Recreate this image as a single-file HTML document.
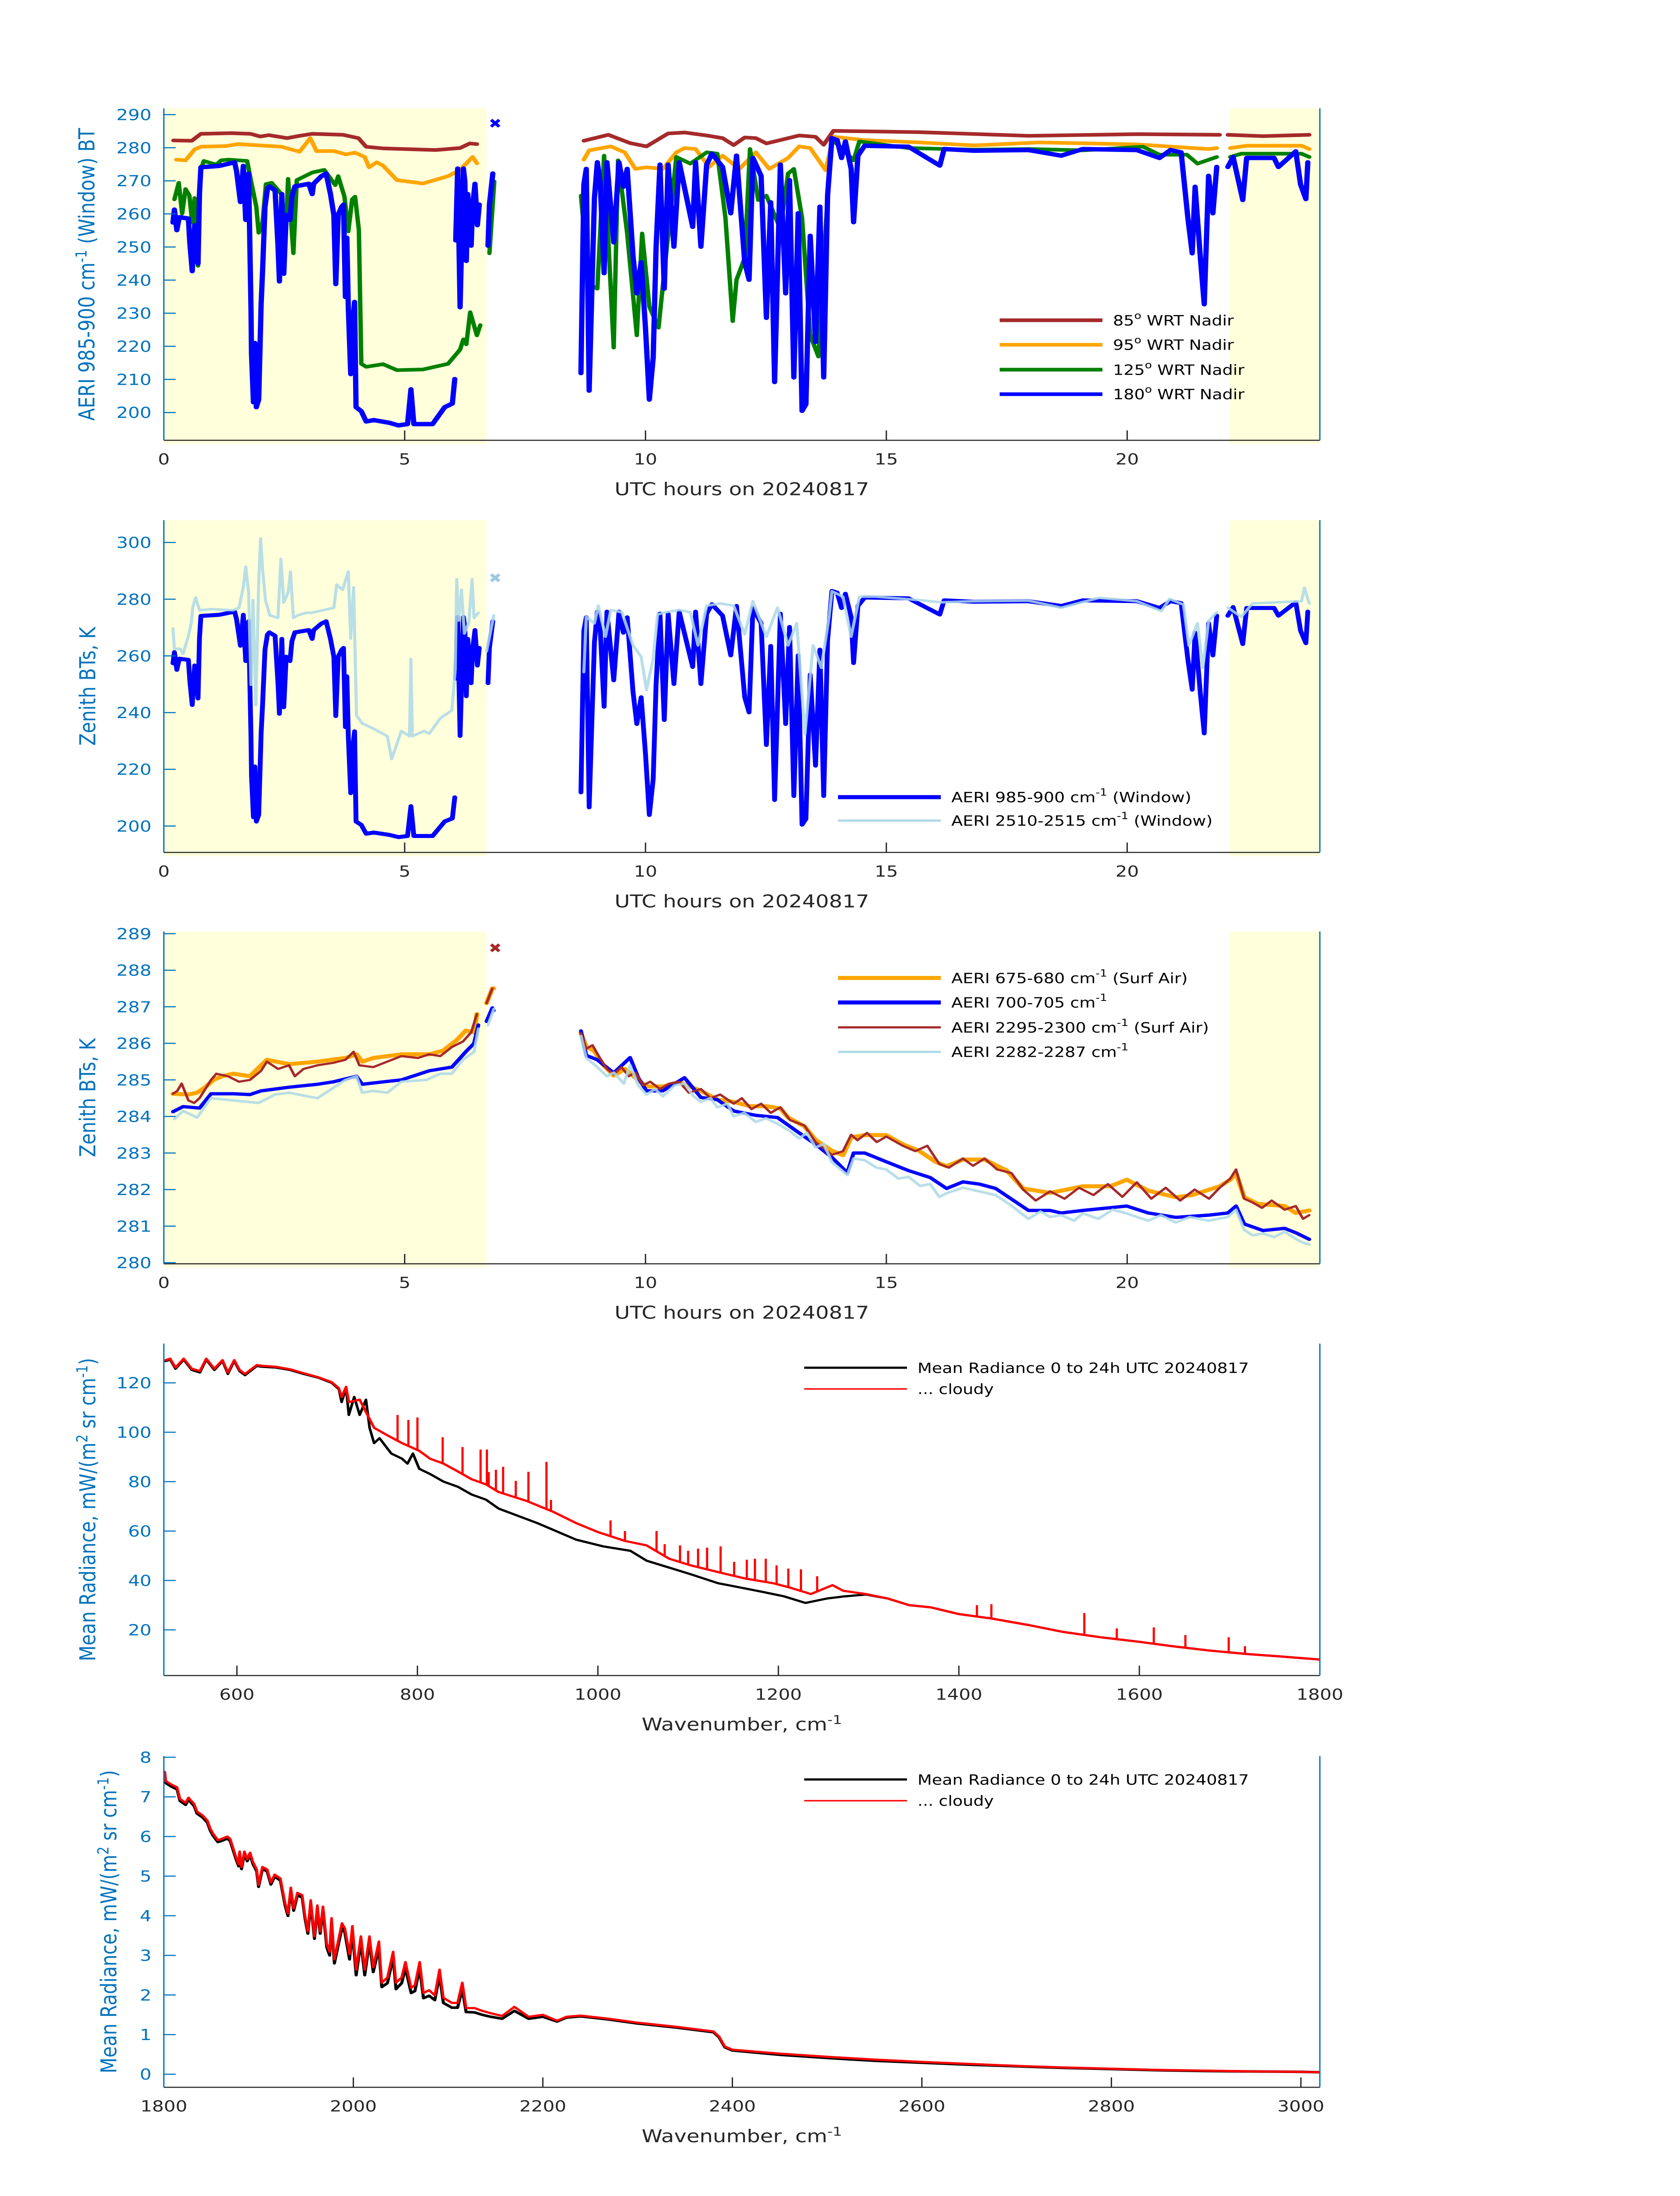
<!DOCTYPE html>
<html><head><meta charset="utf-8"><style>
html,body{margin:0;padding:0;background:#fff;width:100%;height:100%;overflow:hidden}
svg{display:block;width:100vw;height:100vh}
text{font-family:"DejaVu Sans","Liberation Sans",sans-serif}
</style></head><body>
<svg id="fig" xmlns="http://www.w3.org/2000/svg" viewBox="0 0 3825 6000" preserveAspectRatio="none">
<rect width="3825" height="6000" fill="#fff"/>
</svg>
<script>
// ---------- Panel 1 data (hours, BT K) ----------
const p1H85=[0.2,0.58,0.77,1.41,1.8,2.0,2.18,2.56,2.82,3.08,3.72,4.04,4.2,4.55,5.64,6.15,6.35,6.5,null,8.72,9.0,9.23,9.68,10.02,10.47,10.81,11.27,11.6,11.83,12.06,12.29,12.51,12.74,13.19,13.53,13.7,13.9,15.68,17.95,20.2,21.92,null,22.09,22.82,23.78];
const p1V85=[282.2,282.1,284.2,284.4,284.2,283.4,283.8,282.9,283.6,284.2,283.9,282.9,280.3,279.8,279.3,279.9,281.3,281.1,null,282.1,283.1,283.9,281.4,280.4,284.3,284.6,283.7,282.9,280.8,283.1,282.9,281.3,282.1,283.7,283.3,280.9,285.1,284.7,283.6,284.1,283.9,null,283.9,283.5,283.9];
const p1H95=[0.26,0.45,0.64,0.77,1.28,1.54,2.44,2.82,3.04,3.17,3.53,3.78,3.97,4.17,4.26,4.42,4.55,4.84,5.38,5.9,6.15,6.41,6.5,null,8.72,8.83,9.28,9.57,9.79,10.02,10.36,10.64,10.81,11.04,11.32,11.6,11.95,12.29,12.57,12.96,13.19,13.42,13.74,13.9,14.55,15.68,16.82,18.18,20.2,21.69,21.86,null,22.14,22.48,23.62,23.78];
const p1V95=[276.4,276.2,279.5,280.3,280.5,281.1,280.3,278.8,282.9,279,279,278,278.5,277.2,274.1,275.6,274.6,270.2,269.2,271.4,273.3,277.2,275.3,null,276.4,279.2,280.4,278.6,273.6,274.1,273.6,278.6,279.9,279.6,274.2,277.6,273.6,278.6,273.6,276.9,280.4,279.9,273.2,283.3,282.3,281.6,280.7,281.6,281,279.6,279.9,null,279.9,280.6,280.6,279.6];
const p1H125=[0.22,0.31,0.38,0.45,0.53,0.59,0.64,0.71,0.76,0.83,1.09,1.19,1.35,1.73,1.79,1.92,1.97,2.05,2.12,2.24,2.44,2.53,2.58,2.69,2.76,3.08,3.33,3.56,3.62,3.75,3.83,3.91,3.97,4.05,4.1,4.2,4.55,4.84,5.38,5.9,6.15,6.22,6.28,6.36,6.5,6.57,null,6.76,6.86,null,8.66,8.83,9.0,9.14,9.34,9.43,9.62,9.82,9.93,10.08,10.27,10.42,10.64,10.93,11.27,11.49,11.66,11.81,11.89,12.06,12.17,12.34,12.51,12.8,12.96,13.08,13.25,13.42,13.59,13.76,13.87,14.32,14.44,15.46,16.82,17.95,19.08,20.33,20.67,21.24,21.46,21.86,null,22.14,22.37,23.62,23.78];
const p1V125=[264.4,269.4,260.1,267.5,265.6,257.4,264.8,244.3,272.9,276,274.9,276.2,276.4,276,271.4,262.1,254.3,257.4,269,269.4,266,253.5,270.6,248.1,270.2,272.5,273.3,268.7,271.4,265.2,254.7,264.4,265.2,255.1,214.7,213.8,214.6,212.8,213,214.7,219,222.1,220.6,230.3,223.3,226.4,null,248.1,269.8,null,265.5,238.7,237.4,277.6,219.6,276.2,254.1,223.3,254.1,232,225.6,246.7,277.2,275.2,278.6,278.2,258.8,227.6,240.1,246.7,279.6,264.2,265.5,255.5,272.2,273.6,258.8,223.3,216.9,260.2,282.6,276.2,281.9,279.9,279.4,279.6,279.2,280.3,277.9,277.9,275.2,277.2,null,277.2,278.2,278.2,277.2];
const p1H180=[0.19,0.22,0.27,0.32,0.51,0.54,0.59,0.64,0.71,0.74,0.77,1.15,1.47,1.51,1.59,1.65,1.7,1.76,1.81,1.82,1.86,1.89,1.92,1.97,2.02,2.05,2.1,2.15,2.19,2.31,2.37,2.4,2.45,2.49,2.54,2.62,2.66,2.72,3.01,3.08,3.11,3.27,3.37,3.46,3.53,3.57,3.62,3.69,3.73,3.77,3.8,3.83,3.88,3.92,3.96,3.99,4.1,4.2,4.36,4.68,4.87,5.06,5.13,5.19,5.58,5.83,5.99,6.04,null,6.06,6.1,6.15,6.22,6.25,6.28,6.31,6.38,6.41,6.46,6.51,6.55,null,6.73,6.76,6.83,null,8.66,8.72,8.77,8.83,8.89,8.94,9.0,9.06,9.14,9.2,9.34,9.45,9.54,9.62,9.74,9.82,9.91,10.0,10.08,10.16,10.22,10.3,10.39,10.47,10.59,10.7,10.98,11.04,11.15,11.27,11.38,11.6,11.77,11.89,12.06,12.15,12.23,12.4,12.51,12.6,12.68,12.8,12.91,12.99,13.08,13.17,13.25,13.33,13.42,13.53,13.62,13.7,13.78,13.87,13.98,14.07,14.15,14.27,14.32,14.41,14.55,15.46,16.11,16.2,16.82,17.95,18.63,19.08,20.2,20.67,20.9,21.12,21.26,21.35,21.41,21.52,21.6,21.69,21.78,21.86,null,22.09,22.2,22.4,22.48,23.05,23.14,23.5,23.6,23.71,23.75];
const p1V180=[257.4,261.3,255.1,259,258.6,251.2,242.7,256.6,245,266.3,274.1,274.5,275.6,272.9,263.6,274.5,258.2,272.2,231,217.8,203.1,221,201.6,203.9,232.6,242.7,262.1,267.5,268.3,267.1,250.4,239.6,266,241.9,259.7,258.2,265.2,268.3,269.1,266,269.1,271.4,272.2,266,259.7,238.8,259.7,262.1,262.8,234.9,252.8,231.8,211.6,227.2,233.4,201.6,200.4,197.3,197.7,196.9,196.1,196.5,207,196.5,196.5,201.6,202.7,210.1,null,252,273.7,231.8,273.7,269.8,245.8,266,250.4,262.1,269.1,256.6,262.8,null,250.4,262.8,272.2,null,211.9,268.9,273.6,206.6,238.7,264.8,275.6,269.5,242.1,275.6,251.4,275.6,268.2,273.6,247.4,236,245.4,225.3,203.9,216.6,250.1,274.9,237.4,274.9,250.1,275.6,256.1,275.6,250.1,274.9,278.2,274.2,260.2,277.6,245.4,240.1,276.9,271.5,228.6,263.5,209.2,274.9,236,270.2,210.6,260.2,200.5,202.5,253.4,221.3,262.2,210.6,265.5,282.9,282.3,276.9,281.9,273.6,257.5,277.6,280.6,280.3,274.6,279.6,279.1,279.3,277.6,279.6,279.3,276.9,279.3,278.6,258.8,248.1,268.2,246.7,232.7,271.5,260.2,274.2,null,274.2,277.2,264.2,276.9,276.9,274.2,278.9,268.9,264.5,275.6];
// ---------- Panel 2 data (light window channel) ----------
const p2HLight=[0.19,0.22,0.34,0.4,0.51,0.57,0.6,0.66,0.74,0.98,1.44,1.56,1.65,1.7,1.76,1.81,1.85,1.91,1.97,2.01,2.05,2.11,2.2,2.37,2.43,2.49,2.58,2.63,2.69,2.78,2.95,3.07,3.53,3.59,3.71,3.83,3.88,3.94,4.0,4.12,4.35,4.64,4.73,4.93,5.1,5.13,5.16,5.4,5.51,5.74,5.98,6.05,6.08,6.12,6.18,6.24,6.33,6.4,6.44,6.53,null,6.7,6.85,null,8.72,8.77,8.94,9.02,9.17,9.28,9.51,9.74,9.91,10.02,10.16,10.25,10.42,10.7,10.93,11.09,11.27,11.55,11.83,12.06,12.23,12.51,12.74,12.96,13.14,13.31,13.48,13.65,13.81,13.87,14.1,14.27,14.44,14.78,15.68,16.14,16.82,17.95,18.63,19.42,20.2,20.71,20.88,21.17,21.28,21.46,21.57,21.69,21.86,null,22.09,22.37,22.6,23.62,23.68,23.78];
const p2VLight=[269.7,262.5,262.5,260.7,267,271.6,277,280.6,276.1,276.5,276.1,277,284.2,291.5,282.4,249.8,279.7,242.6,286,301.4,290.6,279.7,274.3,273.4,294.2,278.8,282.4,289.7,273.4,274.3,275.2,275.2,277,285.1,283.3,289.7,266.1,284.2,239,236.2,234.4,231.7,223.6,233.5,231.7,258.9,231.7,233.5,232.6,238,240.8,255.3,287,272.5,283.3,267.9,271.6,287,273.4,275.2,null,261.6,274.3,null,254.3,273.8,271.5,277.7,266.8,276.2,275.4,263.7,259.7,248,259,274.6,275.4,276.2,275.4,263.7,277.7,278.5,277.7,267.6,279.3,266.8,277,263.7,271.5,232.4,263.7,255.8,273.8,282.8,280.9,266.8,280.9,280.9,279.7,278.9,279.3,279.5,277,280.5,279.3,275.8,280.1,278.1,263.7,271.5,255.8,272.3,275.4,null,277,273.8,278.5,279.3,284,278.5];
// ---------- Panel 3 data (hours, K) ----------
const p3H675=[0.19,0.51,0.69,0.86,1.03,1.21,1.44,1.79,2.02,2.14,2.6,3.19,3.77,4.0,4.12,4.35,4.93,5.51,5.8,6.09,6.27,6.44,6.5,null,6.7,6.82,6.85,null,8.66,8.77,8.94,9.11,9.34,9.57,9.79,10.02,10.36,10.7,11.15,11.49,11.83,12.17,12.51,12.8,12.96,13.3,13.53,13.87,14.1,14.27,14.55,15.0,15.34,15.68,16.02,16.25,16.59,17.04,17.5,17.84,18.4,18.63,19.08,19.65,19.99,20.44,21.01,21.35,21.92,22.14,22.26,22.43,22.71,23.27,23.5,23.78];
const p3V675=[284.62,284.6,284.65,284.8,285.0,285.1,285.17,285.1,285.4,285.55,285.43,285.5,285.6,285.7,285.5,285.6,285.7,285.7,285.8,286.1,286.35,286.3,286.8,null,287.1,287.5,287.5,null,286.28,285.91,285.79,285.43,285.12,285.3,285.06,284.82,284.82,284.94,284.7,284.46,284.4,284.28,284.28,284.22,283.97,283.73,283.36,283.06,282.94,283.43,283.49,283.49,283.24,283.06,282.76,282.64,282.82,282.82,282.52,282.03,281.91,281.97,282.09,282.09,282.27,281.97,281.79,281.85,282.09,282.27,282.45,281.79,281.61,281.55,281.36,281.43];
const p3H2295=[0.19,0.28,0.37,0.51,0.63,0.74,0.98,1.09,1.33,1.56,1.79,2.02,2.14,2.37,2.6,2.72,2.9,3.19,3.53,3.77,3.94,4.06,4.35,4.64,4.93,5.28,5.51,5.74,5.98,6.21,6.38,6.5,null,6.7,6.82,null,8.66,8.77,8.9,9.05,9.2,9.34,9.5,9.65,9.79,9.95,10.1,10.3,10.5,10.7,10.9,11.15,11.35,11.55,11.83,12.0,12.2,12.4,12.6,12.8,13.0,13.3,13.53,13.87,14.1,14.27,14.4,14.6,14.8,15.0,15.34,15.6,15.85,16.1,16.3,16.59,16.8,17.04,17.3,17.6,17.84,18.1,18.4,18.7,19.0,19.3,19.6,19.9,20.2,20.5,20.8,21.1,21.4,21.7,21.92,22.14,22.26,22.43,22.6,22.8,23.0,23.27,23.5,23.65,23.78];
const p3V2295=[284.62,284.7,284.9,284.44,284.37,284.5,285.0,285.17,285.1,284.95,285.0,285.25,285.5,285.3,285.4,285.1,285.3,285.4,285.47,285.55,285.77,285.4,285.35,285.5,285.65,285.6,285.7,285.65,285.9,286.05,286.3,286.8,null,287.1,287.5,null,286.28,285.85,285.95,285.6,285.3,285.15,285.35,285.1,285.2,284.85,284.95,284.75,284.9,284.95,284.65,284.75,284.5,284.6,284.35,284.5,284.2,284.35,284.1,284.25,283.9,283.75,283.3,282.95,283.05,283.5,283.35,283.55,283.3,283.45,283.2,283.05,283.2,282.7,282.6,282.85,282.65,282.85,282.55,282.45,282.0,281.7,281.95,281.75,282.05,281.85,282.15,281.8,282.2,281.75,282.05,281.7,282.0,281.75,282.05,282.3,282.55,281.75,281.65,281.5,281.7,281.45,281.55,281.2,281.3];
const p3H700=[0.19,0.4,0.74,0.98,1.44,1.79,2.02,2.6,3.19,3.53,4.0,4.12,4.58,4.93,5.51,5.98,6.27,6.44,6.53,null,6.7,6.82,6.85,null,8.66,8.77,9.0,9.34,9.68,9.85,10.02,10.36,10.81,11.15,11.49,11.83,12.29,12.74,13.19,13.53,13.87,14.19,14.32,14.55,15.0,15.46,15.91,16.25,16.59,16.93,17.27,17.61,17.95,18.4,18.63,19.08,19.99,20.44,21.01,21.69,22.09,22.26,22.43,22.82,23.27,23.5,23.78];
const p3V700=[284.13,284.27,284.23,284.62,284.62,284.6,284.7,284.8,284.88,284.95,285.1,284.88,284.95,285.0,285.25,285.35,285.77,286.0,286.5,null,286.6,286.97,286.9,null,286.34,285.67,285.55,285.19,285.61,285.06,284.7,284.7,285.06,284.52,284.46,284.15,284.03,283.97,283.55,283.24,282.88,282.46,283.0,283.0,282.76,282.52,282.33,282.03,282.21,282.15,282.03,281.73,281.43,281.43,281.36,281.43,281.55,281.36,281.24,281.3,281.36,281.55,281.06,280.88,280.94,280.82,280.64];
const p3H2282=[0.22,0.4,0.69,0.98,1.44,1.97,2.31,2.6,3.19,3.77,4.0,4.12,4.35,4.64,4.93,5.45,5.74,5.98,6.21,6.44,6.53,null,6.73,6.85,null,8.66,8.77,9.0,9.2,9.34,9.55,9.68,9.85,10.02,10.2,10.36,10.6,10.81,11.0,11.15,11.35,11.49,11.7,11.83,12.05,12.29,12.5,12.74,13.0,13.19,13.35,13.53,13.7,13.87,14.19,14.32,14.55,14.8,15.0,15.25,15.46,15.7,15.91,16.1,16.25,16.59,16.93,17.27,17.61,17.8,17.95,18.2,18.4,18.63,18.9,19.08,19.4,19.7,19.99,20.2,20.44,20.7,21.01,21.3,21.69,22.09,22.26,22.43,22.6,22.82,23.05,23.27,23.5,23.65,23.78];
const p3V2282=[283.93,284.15,283.97,284.5,284.44,284.37,284.6,284.65,284.5,285.0,285.1,284.65,284.7,284.65,284.95,285.0,285.17,285.17,285.55,285.77,286.4,null,286.5,286.94,null,286.2,285.6,285.35,285.1,285.2,284.9,285.4,284.85,284.6,284.75,284.55,284.85,284.9,284.55,284.4,284.5,284.25,284.35,284.0,284.1,283.85,283.95,283.8,283.6,283.4,283.55,283.15,283.25,282.75,282.4,282.85,282.8,282.6,282.55,282.3,282.35,282.1,282.15,281.8,281.9,282.05,281.95,281.85,281.55,281.35,281.2,281.4,281.25,281.3,281.15,281.35,281.2,281.45,281.35,281.25,281.15,281.3,281.1,281.25,281.15,281.25,281.45,280.9,280.75,280.8,280.7,280.85,280.65,280.55,280.5];
// ---------- Panel 4 data (wavenumber, radiance) ----------
const p4WnAll=[521,526,532,541,550,559,566,575,584,590,597,603,609,622,628,643,659,674,690,705,713,716,721,724,730,736,743,747,752,758,771,783,789,795,802,814,829,845,860,876,890,933,976,1006,1036,1054,1079,1103,1133,1157,1182,1206,1230,1254,1272,1297,1321,1345,1369,1400,1436,1478,1515,1557,1599,1636,1678,1720,1757,1799];
const p4RadAll=[128.8,129.4,125.7,129.4,125.2,124.2,129.4,125.2,128.8,123.6,128.8,124.7,123.1,126.8,126.5,126.2,125.2,123.6,122.1,120,117.4,112.2,117.9,107,114.3,107,113.2,101.8,95.6,97.6,91.4,89.3,87.3,91.4,85.2,83.1,80,77.9,74.8,72.7,69.1,63.2,56.5,53.8,52,48,45.2,42.5,38.9,37.2,35.4,33.6,30.9,32.7,33.5,34.3,32.7,30,29.1,26.4,24.6,21.9,19.2,17,15.2,13.4,11.6,10.2,9.2,8.0];
const p4WnCloudy=[521,526,532,541,550,559,566,575,584,590,597,603,609,622,628,643,659,674,690,705,713,716,721,724,736,752,767,783,802,814,829,845,860,876,890,921,951,976,1000,1030,1054,1079,1103,1133,1163,1194,1212,1236,1260,1272,1297,1321,1345,1369,1400,1436,1478,1515,1557,1599,1636,1678,1720,1757,1799];
const p4RadCloudy=[129.2,129.8,126.2,129.8,125.7,124.8,129.8,125.7,129.2,124.2,129.2,125.2,123.6,127.2,126.9,126.5,125.5,123.9,122.3,120.3,117.8,114.3,118.4,112.2,113.2,101.8,98.7,95.6,92.5,89.3,87.3,84.1,81,78.9,75.8,72.2,67.7,63.2,59.6,56,54.2,48.8,46.1,43.4,40.8,38.9,37.2,34.5,38.1,35.8,34.5,32.7,30,29.1,26.4,24.6,21.9,19.2,17,15.2,13.4,11.6,10.2,9.2,8.0];
const p4SpikeWn=[778,790,800,828,850,870,877,895,923,943,879,887,909,948,1014,1030,1065,1074,1091,1100,1111,1121,1136,1151,1165,1174,1186,1198,1211,1225,1243,1420,1436,1539,1575,1616,1651,1699,1717];
const p4SpikeTop=[107,105,106,98,94,93,93,86,84,88,83.9,84.8,80.3,72.6,64.3,60,60,54.7,54.2,52,52.9,53.3,53.8,47.5,48.4,48.8,48.8,46.1,44.8,44.5,41.7,30,30.4,26.8,20.6,21,17.9,17,13.4];
// ---------- Panel 5 data ----------
const p5Wn=[1801,1802,1808,1814,1817,1823,1826,1832,1835,1841,1846,1849,1852,1857,1861,1867,1870,1876,1879,1880,1882,1885,1888,1891,1894,1898,1900,1904,1909,1913,1917,1923,1928,1931,1934,1937,1941,1946,1949,1952,1955,1959,1962,1965,1968,1972,1975,1977,1980,1988,1991,1996,1999,2003,2008,2012,2017,2021,2027,2030,2036,2042,2045,2051,2055,2061,2065,2070,2074,2080,2086,2091,2095,2104,2110,2115,2119,2128,2136,2145,2157,2170,2185,2200,2215,2225,2240,2270,2300,2340,2380,2386,2392,2400,2450,2500,2550,2600,2650,2700,2750,2800,2850,2900,2950,3000,3020];
const p5Cloudy=[7.63,7.4,7.31,7.24,6.95,6.85,6.98,6.82,6.63,6.53,6.4,6.2,6.07,5.91,5.94,6.0,5.94,5.49,5.3,5.62,5.23,5.62,5.43,5.59,5.36,5.17,4.78,5.23,5.17,4.84,5.04,4.94,4.32,4.06,4.71,4.19,4.58,4.52,4.0,3.61,4.39,3.48,4.26,3.61,4.23,3.29,3.09,3.94,2.9,3.81,3.68,3.03,3.74,2.64,3.48,2.64,3.48,2.7,3.35,2.31,2.44,3.09,2.31,2.44,2.83,2.18,2.25,2.83,2.05,2.12,1.99,2.64,1.93,1.8,1.8,2.31,1.67,1.67,1.6,1.54,1.47,1.7,1.45,1.5,1.35,1.45,1.48,1.4,1.3,1.2,1.08,0.95,0.7,0.62,0.52,0.44,0.37,0.31,0.26,0.21,0.17,0.14,0.11,0.09,0.07,0.06,0.05];
const p5All=[7.6,7.35,7.26,7.19,6.9,6.8,6.93,6.77,6.58,6.48,6.35,6.15,6.02,5.86,5.89,5.95,5.89,5.44,5.25,5.57,5.18,5.57,5.38,5.54,5.31,5.12,4.73,5.18,5.12,4.79,4.99,4.89,4.26,4.0,4.65,4.13,4.52,4.46,3.94,3.55,4.33,3.42,4.2,3.55,4.17,3.2,3.0,3.85,2.8,3.7,3.58,2.9,3.62,2.5,3.35,2.5,3.35,2.58,3.2,2.2,2.3,2.95,2.15,2.3,2.68,2.05,2.1,2.68,1.92,1.98,1.87,2.5,1.8,1.68,1.68,2.15,1.57,1.56,1.5,1.45,1.4,1.6,1.4,1.45,1.33,1.43,1.46,1.38,1.28,1.18,1.06,0.93,0.68,0.6,0.49,0.41,0.34,0.29,0.24,0.2,0.16,0.13,0.1,0.08,0.07,0.06,0.05];

// ---------- layout ----------
const NS='http://www.w3.org/2000/svg';
const svg=document.getElementById('fig');
const L=373,R=3005;
const panels=[
 {top:296,bot:1203,x0:0,x1:24,y0:191.6,y1:291.9},
 {top:1421,bot:2329,x0:0,x1:24,y0:190.7,y1:307.9},
 {top:2545,bot:3453,x0:0,x1:24,y0:279.97,y1:289.06},
 {top:3671,bot:4578,x0:519,x1:1800,y0:1.5,y1:135.9},
 {top:4798,bot:5703,x0:1800,x1:3020,y0:-0.33,y1:8.03}
];
function sx(p,v){return L+(v-p.x0)/(p.x1-p.x0)*(R-L);}
function sy(p,v){return p.bot-(v-p.y0)/(p.y1-p.y0)*(p.bot-p.top);}
function el(tag,attrs,parent){const e=document.createElementNS(NS,tag);for(const k in attrs)e.setAttribute(k,attrs[k]);(parent||svg).appendChild(e);return e;}
function series(p,xs,ys,color,w,name,op){
  let d='',pen=false;
  for(let i=0;i<xs.length;i++){
    if(xs[i]===null||ys[i]===null){pen=false;continue;}
    d+=(pen?'L':'M')+sx(p,xs[i]).toFixed(1)+' '+sy(p,ys[i]).toFixed(1);pen=true;
  }
  const e=el('path',{d:d,fill:'none',stroke:color,'stroke-width':w,'stroke-linejoin':'round','stroke-linecap':'round','clip-path':'url(#clip'+panels.indexOf(p)+')'});
  if(op)e.setAttribute('stroke-opacity',op);
  
  
  return e;
}
const defs=el('defs',{});
panels.forEach((p,i)=>{const c=el('clipPath',{id:'clip'+i},defs);el('rect',{x:L,y:p.top-20,width:R-L,height:p.bot-p.top+20},c);});

const xTicks=[[0,5,10,15,20],[0,5,10,15,20],[0,5,10,15,20],[600,800,1000,1200,1400,1600,1800],[1800,2000,2200,2400,2600,2800,3000]];
const yTicks=[[200,210,220,230,240,250,260,270,280,290],[200,220,240,260,280,300],[280,281,282,283,284,285,286,287,288,289],[20,40,60,80,100,120],[0,1,2,3,4,5,6,7,8]];
const BLUEAX='#0072bd';

function axes(i,xlabel){
  const p=panels[i];
  const g=el('g',{});
  
  
  const xa=el('line',{x1:L,y1:p.bot,x2:R,y2:p.bot,stroke:'#262626','stroke-width':3},g);
  
  
  xTicks[i].forEach(t=>{
    const x=sx(p,t);
    el('line',{x1:x,y1:p.bot,x2:x,y2:p.bot-27,stroke:'#262626','stroke-width':3},g);
    const tx=el('text',{x:x,y:p.bot+66,'font-size':42,fill:'#262626','text-anchor':'middle'},g);
    tx.textContent=t;
    
    
  });
  const ya=el('line',{x1:L,y1:p.top,x2:L,y2:p.bot,stroke:BLUEAX,'stroke-width':3},g);
  
  
  const ra=el('line',{x1:R,y1:p.top,x2:R,y2:p.bot,stroke:BLUEAX,'stroke-width':3},g);
  
  
  yTicks[i].forEach(t=>{
    const y=sy(p,t);
    el('line',{x1:L,y1:y,x2:L+27,y2:y,stroke:BLUEAX,'stroke-width':3},g);
    const tx=el('text',{x:L-28,y:y+15,'font-size':42,fill:BLUEAX,'text-anchor':'end'},g);
    tx.textContent=t;
    
    
  });
  const xl=el('text',{x:(L+R)/2,y:p.bot+150,'font-size':48,fill:'#262626','text-anchor':'middle'},g);
  xl.innerHTML=xlabel;
  
  
}
function ylabel(i,html,cx){
  const p=panels[i];const cy=(p.top+p.bot)/2;
  const t=el('text',{x:cx,y:cy,'font-size':50,fill:BLUEAX,'text-anchor':'middle',transform:'rotate(-90 '+cx+' '+cy+')'});
  t.innerHTML=html;
  
  
}
function shade(i){
  const p=panels[i];
  [[0,6.7],[22.13,24]].forEach(r=>{
    const s=el('rect',{x:sx(p,r[0]),y:p.top,width:sx(p,r[1])-sx(p,r[0]),height:p.bot-p.top+10,fill:'#ffffdc'});
    
    
  });
}
function legend(x,ys,entries){
  const g=el('g',{});
  
  
  entries.forEach((e,k)=>{
    el('line',{x1:x,y1:ys[k],x2:x+234,y2:ys[k],stroke:e[0],'stroke-width':e[1]},g);
    const t=el('text',{x:x+258,y:ys[k]+14,'font-size':38,fill:'#000'},g);
    t.innerHTML=e[2];
    
    
  });
}
function marker(i,h,v,color){
  const p=panels[i];const t=el('text',{x:sx(p,h),y:sy(p,v)+12,'font-size':36,'font-weight':'bold',fill:color,'text-anchor':'middle'});
  t.textContent='✖';
  
  
}
const sup=(s)=>'<tspan dy="-18" font-size="0.7em">'+s+'</tspan><tspan dy="18">';
const UTC='UTC hours on 20240817';

// Panel 1
shade(0);
series(panels[0],p1H85,p1V85,'#a52a2a',10,'line-85-deg');
series(panels[0],p1H95,p1V95,'#ffa500',10,'line-95-deg');
series(panels[0],p1H125,p1V125,'#008000',10,'line-125-deg');
series(panels[0],p1H180,p1V180,'#0000ff',12,'line-180-deg');
marker(0,6.88,287.3,'#0000ff');
axes(0,UTC);
ylabel(0,'AERI 985-900 cm'+sup('-1')+' (Window) BT</tspan>',215);
legend(2276,[875,942,1010,1077],[['#a52a2a',10,'85'+sup('o')+' WRT Nadir</tspan>'],['#ffa500',10,'95'+sup('o')+' WRT Nadir</tspan>'],['#008000',10,'125'+sup('o')+' WRT Nadir</tspan>'],['#0000ff',10,'180'+sup('o')+' WRT Nadir</tspan>']]);

// Panel 2
shade(1);
series(panels[1],p1H180,p1V180,'#0000ff',11,'line-985-900');
series(panels[1],p2HLight,p2VLight,'#add8e6',7,'line-2510-2515',0.85);
marker(1,6.88,287.4,'#9cc8e0');
axes(1,UTC);
ylabel(1,'Zenith BTs, K',217);
legend(1908,[2178,2242],[['#0000ff',11,'AERI 985-900 cm'+sup('-1')+' (Window)</tspan>'],['#add8e6',6,'AERI 2510-2515 cm'+sup('-1')+' (Window)</tspan>']]);

// Panel 3
shade(2);
series(panels[2],p3H675,p3V675,'#ffa500',11,'line-675-680');
series(panels[2],p3H700,p3V700,'#0000ff',9,'line-700-705');
series(panels[2],p3H2295,p3V2295,'#a52a2a',6,'line-2295-2300');
series(panels[2],p3H2282,p3V2282,'#add8e6',7,'line-2282-2287',0.85);
marker(2,6.88,288.6,'#a52a2a');
axes(2,UTC);
ylabel(2,'Zenith BTs, K',217);
legend(1908,[2672,2739,2807,2874],[['#ffa500',11,'AERI 675-680 cm'+sup('-1')+' (Surf Air)</tspan>'],['#0000ff',11,'AERI 700-705 cm'+sup('-1')+'</tspan>'],['#a52a2a',6,'AERI 2295-2300 cm'+sup('-1')+' (Surf Air)</tspan>'],['#add8e6',6,'AERI 2282-2287 cm'+sup('-1')+'</tspan>']]);

// Panel 4
series(panels[3],p4WnAll,p4RadAll,'#000000',6,'mean-radiance-all');
series(panels[3],p4WnCloudy,p4RadCloudy,'#ff0000',6,'mean-radiance-cloudy');
(function(){const p=panels[3];
 for(let k=0;k<p4SpikeWn.length;k++){
  let w=p4SpikeWn[k],b=p4RadCloudy[0];
  for(let j=1;j<p4WnCloudy.length;j++){if(p4WnCloudy[j]>=w){const f=(w-p4WnCloudy[j-1])/(p4WnCloudy[j]-p4WnCloudy[j-1]);b=p4RadCloudy[j-1]+f*(p4RadCloudy[j]-p4RadCloudy[j-1]);break;}}
  const s=el('line',{x1:sx(p,w),y1:sy(p,b),x2:sx(p,w),y2:sy(p,p4SpikeTop[k]),stroke:'#ff0000','stroke-width':5});
  
  
 }})();
axes(3,'Wavenumber, cm'+sup('-1')+'</tspan>');
ylabel(3,'Mean Radiance, mW/(m'+sup('2')+'  sr cm'+sup('-1')+')</tspan></tspan>',217);
legend(1831,[3737,3795],[['#000000',6,'Mean Radiance 0 to 24h UTC 20240817'],['#ff0000',4,'... cloudy']]);

// Panel 5
series(panels[4],p5Wn,p5All,'#000000',7,'mean-radiance-all-2');
series(panels[4],p5Wn,p5Cloudy,'#ff0000',6,'mean-radiance-cloudy-2');
axes(4,'Wavenumber, cm'+sup('-1')+'</tspan>');
ylabel(4,'Mean Radiance, mW/(m'+sup('2')+'  sr cm'+sup('-1')+')</tspan></tspan>',265);
legend(1831,[4862,4920],[['#000000',6,'Mean Radiance 0 to 24h UTC 20240817'],['#ff0000',4,'... cloudy']]);
</script>
</body></html>
